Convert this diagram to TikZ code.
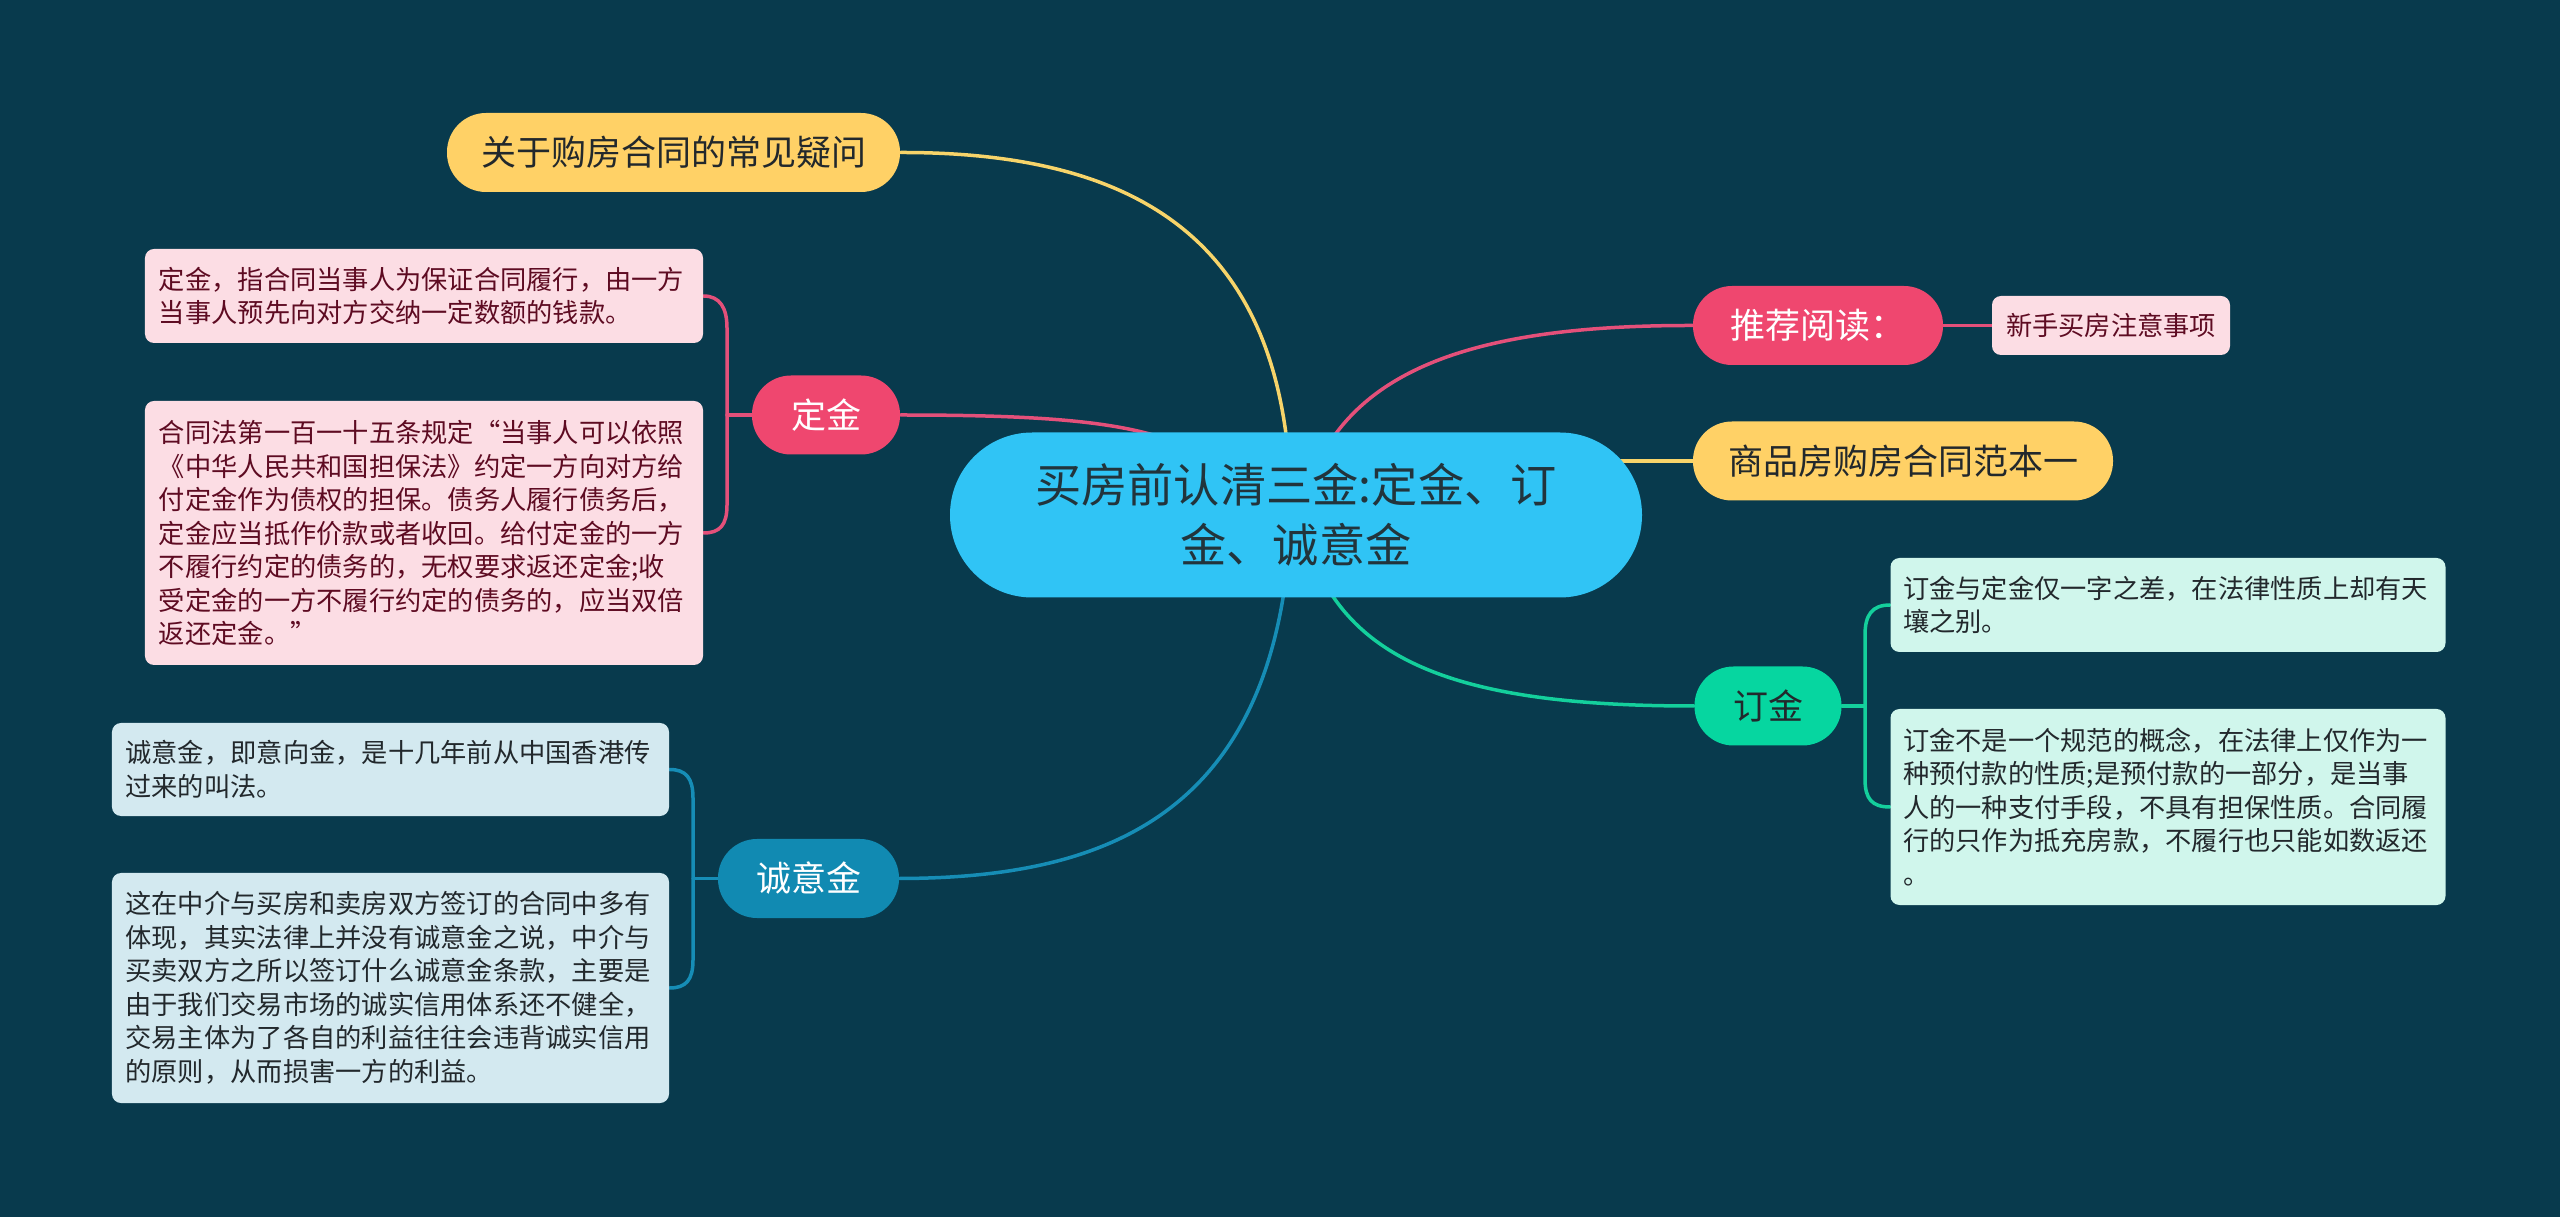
\documentclass[tikz,border=0pt]{standalone}
\usepackage{fontspec}
\setmainfont{Noto Sans CJK SC}
\usetikzlibrary{backgrounds}
\definecolor{bgc}{HTML}{083A4D}
\definecolor{rootc}{HTML}{30C4F5}
\definecolor{roottxt}{HTML}{22343C}
\definecolor{yel}{HTML}{FFD166}
\definecolor{pnk}{HTML}{EF476F}
\definecolor{grn}{HTML}{06D6A0}
\definecolor{blu}{HTML}{118AB2}
\definecolor{yline}{HTML}{F7D46A}
\definecolor{pline}{HTML}{E4507A}
\definecolor{gline}{HTML}{14CF9C}
\definecolor{bline}{HTML}{168DB6}
\definecolor{pinkleaf}{HTML}{FCDDE4}
\definecolor{blueleaf}{HTML}{D3E9F0}
\definecolor{greenleaf}{HTML}{D0F6EC}
\definecolor{maroon}{HTML}{5E0B22}
\definecolor{darktxt}{HTML}{22282C}
\tikzset{
  pill/.style={rectangle, rounded corners=15.6pt, minimum height=31.6pt, inner sep=0pt,
    font=\fontsize{14}{17}\selectfont},
  leaf/.style={rectangle, rounded corners=3.6pt, inner sep=0pt, align=left,
    font=\fontsize{10.5}{13.4}\selectfont},
  link/.style={line width=1.4pt, line cap=round}
}
\begin{document}
\begin{tikzpicture}[x=0.4pt,y=-0.4pt]
\useasboundingbox (0,0) rectangle (2560,1217);
% root
\node[fill=rootc, rounded corners=32.9pt, minimum width=276.8pt, minimum height=66pt,
  inner sep=0pt, align=center, font=\fontsize{18.5}{24}\selectfont, text=roottxt]
  (root) at (1296,515) {买房前认清三金:定金、订\\金、诚意金};
% main branches
\node[pill, fill=yel, text=darktxt, minimum width=181.2pt] (q) at (673.5,152.5) {关于购房合同的常见疑问};
\node[pill, fill=pnk, text=white, minimum width=59.2pt] (dj) at (826,415) {定金};
\node[pill, fill=blu, text=white, minimum width=72.4pt] (cy) at (808.5,878.5) {诚意金};
\node[pill, fill=pnk, text=white, minimum width=100pt] (tj) at (1818,325.5) {推荐阅读：};
\node[pill, fill=yel, text=darktxt, minimum width=168pt] (sp) at (1903,461) {商品房购房合同范本一};
\node[pill, fill=grn, text=darktxt, minimum width=58.8pt] (dg) at (1768,706) {订金};
% leaves
\node[leaf, fill=pinkleaf, text=maroon, text width=212pt, minimum width=223.2pt, minimum height=37.6pt]
  (d1) at (424,296) {定金，指合同当事人为保证合同履行，由一方\\当事人预先向对方交纳一定数额的钱款。};
\node[leaf, fill=pinkleaf, text=maroon, text width=212pt, minimum width=223.2pt, minimum height=105.6pt]
  (d2) at (424,533) {合同法第一百一十五条规定“当事人可以依照\\《中华人民共和国担保法》约定一方向对方给\\付定金作为债权的担保。债务人履行债务后，\\定金应当抵作价款或者收回。给付定金的一方\\不履行约定的债务的，无权要求返还定金;收\\受定金的一方不履行约定的债务的，应当双倍\\返还定金。”};
\node[leaf, fill=blueleaf, text=darktxt, text width=212pt, minimum width=222.8pt, minimum height=37.2pt]
  (c1) at (390.5,769.5) {诚意金，即意向金，是十几年前从中国香港传\\过来的叫法。};
\node[leaf, fill=blueleaf, text=darktxt, text width=212pt, minimum width=222.8pt, minimum height=92pt]
  (c2) at (390.5,988) {这在中介与买房和卖房双方签订的合同中多有\\体现，其实法律上并没有诚意金之说，中介与\\买卖双方之所以签订什么诚意金条款，主要是\\由于我们交易市场的诚实信用体系还不健全，\\交易主体为了各自的利益往往会违背诚实信用\\的原则，从而损害一方的利益。};
\node[leaf, fill=pinkleaf, text=maroon, align=center, minimum width=95.2pt, minimum height=23.6pt]
  (x1) at (2111,325.5) {新手买房注意事项};
\node[leaf, fill=greenleaf, text=darktxt, text width=212pt, minimum width=222pt, minimum height=37.6pt]
  (g1) at (2168,605) {订金与定金仅一字之差，在法律性质上却有天\\壤之别。};
\node[leaf, fill=greenleaf, text=darktxt, text width=212pt, minimum width=222pt, minimum height=78.4pt]
  (g2) at (2168,807) {订金不是一个规范的概念，在法律上仅作为一\\种预付款的性质;是预付款的一部分，是当事\\人的一种支付手段，不具有担保性质。合同履\\行的只作为抵充房款，不履行也只能如数返还\\。};
% hidden origins and bracket joints
\coordinate (oq) at (1291,515);
\coordinate (od) at (1250,500);
\coordinate (ob) at (1291,515);
\coordinate (ot) at (1300,515);
\coordinate (os) at (1550,461);
\coordinate (og) at (1300,515);
\coordinate (bd) at (727,415);
\coordinate (bc) at (693,878.5);
\coordinate (bg) at (1865,706);
\begin{scope}[on background layer]
\fill[bgc] (0,0) rectangle (2560,1217);
\draw[link, yline] (q.east) .. controls (1150,152) and (1291,250) .. (oq);
\draw[link, pline] (dj.east) .. controls (1120,415) and (1200,430) .. (od);
\draw[link, bline] (cy.east) .. controls (1100,878) and (1280,820) .. (ob);
\draw[link, pline] (ot) .. controls (1330,380) and (1450,325) .. (tj.west);
\draw[link, yline] (os) -- (sp.west);
\draw[link, gline] (og) .. controls (1330,660) and (1450,706) .. (dg.west);
\draw[link, pline] (tj.east) -- (x1.west);
% brackets
\draw[link, pline] (d1.east) .. controls (720,296) and (727,308) .. (727,328) -- (727,505) .. controls (727,525) and (720,533) .. (d2.east);
\draw[link, pline] (bd) -- (dj.west);
\draw[link, bline] (c1.east) .. controls (686,769.5) and (693,778) .. (693,798) -- (693,960) .. controls (693,980) and (686,988) .. (c2.east);
\draw[link, bline] (bc) -- (cy.west);
\draw[link, gline] (g1.west) .. controls (1872,605) and (1865,615) .. (1865,635) -- (1865,779) .. controls (1865,799) and (1872,807) .. (g2.west);
\draw[link, gline] (dg.east) -- (bg);
\end{scope}
\end{tikzpicture}
\end{document}
